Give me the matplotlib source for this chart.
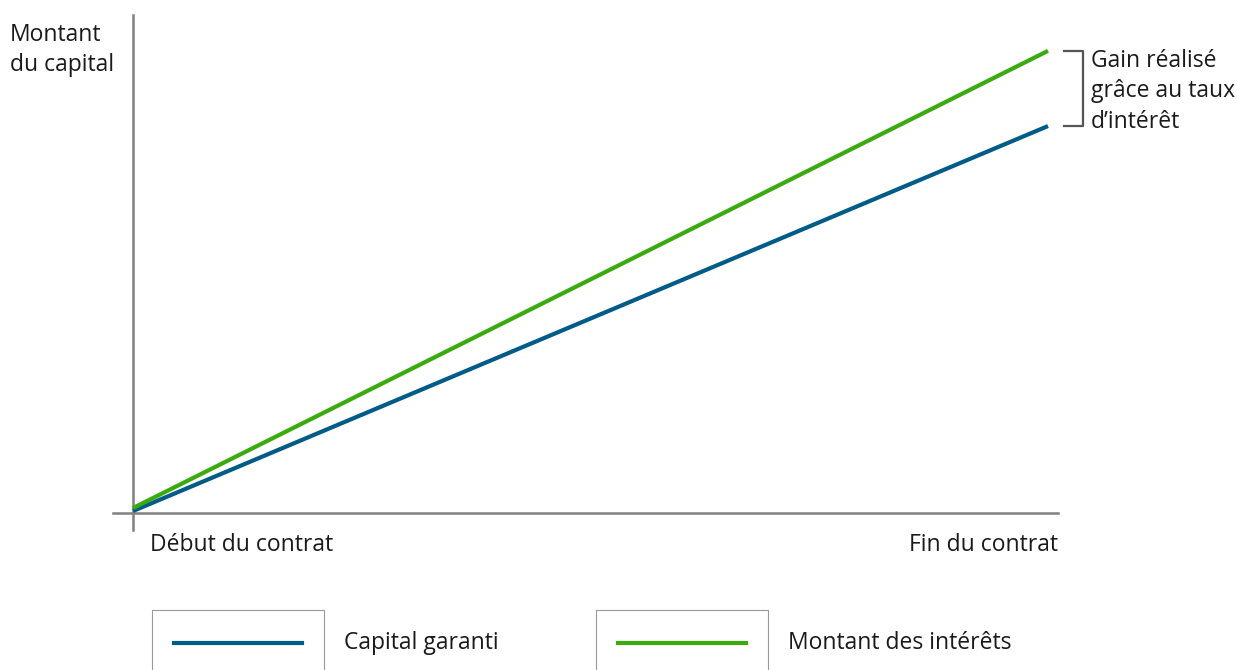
import matplotlib
matplotlib.use("Agg")
import matplotlib.pyplot as plt
from matplotlib.patches import Rectangle
from matplotlib.lines import Line2D

plt.rcParams['font.family'] = ['Open Sans', 'DejaVu Sans']

# data (arbitrary units, 0..100)
periods = [0, 1]
capital_garanti = [0.4, 77.7]
montant_interets = [1.0, 92.8]
x_labels = ['Début du contrat', 'Fin du contrat']
series_names = ['Capital garanti', 'Montant des intérêts']
y_title = 'Montant\ndu capital'
gain_text = 'Gain réalisé\ngrâce au taux\nd’intérêt'

blue = '#005b87'
green = '#3aaa0f'
grey = '#808080'

W, H = 1237, 670
fig = plt.figure(figsize=(W / 100, H / 100), dpi=100)
ax = fig.add_axes([113 / W, 1 - 530 / H, (1058 - 113) / W, (530 - 15) / H])
ax.set_xlim(-20 / 915, 925 / 915)
ax.set_ylim(-17 / 4.98, 100)

ax.plot(periods, capital_garanti, color=blue, lw=3, solid_capstyle='butt', clip_on=False, zorder=3)
ax.plot(periods, montant_interets, color=green, lw=3, solid_capstyle='butt', clip_on=False, zorder=3)

for s in ['top', 'right']:
    ax.spines[s].set_visible(False)
ax.spines['left'].set_position(('data', 0))
ax.spines['bottom'].set_position(('data', 0))
for s in ['left', 'bottom']:
    ax.spines[s].set_color(grey)
    ax.spines[s].set_linewidth(1.8)
ax.set_xticks([])
ax.set_yticks([])

fs = 16.5
txt = '#1a1a1a'
ax.text(17 / 915, -4.0, x_labels[0], fontsize=fs, ha='left', va='top', color=txt)
ax.text(925 / 915, -4.0, x_labels[1], fontsize=fs, ha='right', va='top', color=txt)
fig.text(10 / W, 1 - 50 / H, y_title, fontsize=fs, ha='left', va='center', linespacing=1.38, color=txt)

# bracket
bx0, bx1 = 1 + 16 / 915, 1 + 35 / 915
top, bot = montant_interets[-1], capital_garanti[-1]
ax.plot([bx0, bx1, bx1, bx0], [top, top, bot, bot], color='#555555', lw=1.6, clip_on=False)
ax.text(1 + 43 / 915, (top + bot) / 2 - 0.6, gain_text, fontsize=fs, ha='left', va='center',
        linespacing=1.38, color=txt)

# legend
for i, (name, col) in enumerate(zip(series_names, [blue, green])):
    x0 = 152 + i * 444
    fig.patches.append(Rectangle((x0 / W, -0.05), 172 / W, 0.05 + 60 / H, transform=fig.transFigure,
                                 fill=False, edgecolor='#999999', lw=0.8))
    fig.lines.append(Line2D([(x0 + 22) / W, (x0 + 150) / W], [1 - 643 / H] * 2, transform=fig.transFigure,
                            color=col, lw=3))
    fig.text((x0 + 192) / W, 1 - 643 / H, name, fontsize=fs, ha='left', va='center', color=txt)

fig.savefig('out.png', dpi=100)
